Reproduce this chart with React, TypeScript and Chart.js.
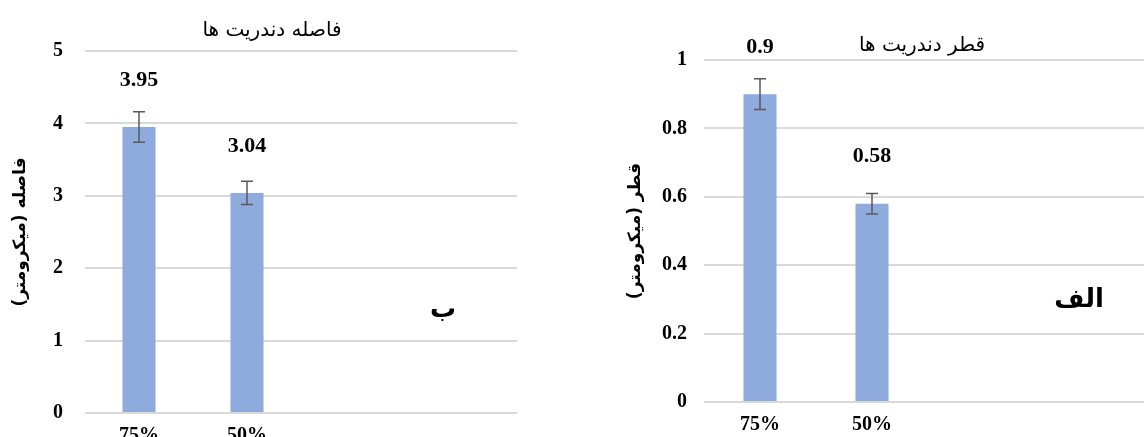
import React, { useEffect, useRef } from 'react';
import { Chart, registerables } from 'chart.js';

Chart.register(...registerables);

// ---- data ----
const categories = ['75%', '50%', '', ''];

const spacingValues = [3.95, 3.04];
const spacingErrors = [0.21, 0.16];
const spacingLabels = ['3.95', '3.04'];
const spacingTitle = 'فاصله دندریت ها';
const spacingAxisTitle = 'فاصله (میکرومتر)';
const spacingLetter = 'ب';
const spacingMin = 0;
const spacingMax = 5;
const spacingStep = 1;

const diameterValues = [0.9, 0.58];
const diameterErrors = [0.045, 0.03];
const diameterLabels = ['0.9', '0.58'];
const diameterTitle = 'قطر دندریت ها';
const diameterAxisTitle = 'قطر (میکرومتر)';
const diameterLetter = 'الف';
const diameterMin = 0;
const diameterMax = 1;
const diameterStep = 0.2;

const BAR_COLOR = '#8faadc';
const GRID_COLOR = '#d9d9d9';
const NUM_FONT = '"Liberation Serif", "Times New Roman", serif';
const FA_FONT = '"DejaVu Sans", sans-serif';

const panelExtras = {
  id: 'panelExtras',
  afterDatasetsDraw(chart: any, _args: any, opts: any) {
    const ctx = chart.ctx;
    const yScale = chart.scales.y;
    const meta = chart.getDatasetMeta(0);
    const values = chart.data.datasets[0].data;
    ctx.save();
    meta.data.forEach((bar: any, i: number) => {
      const v = values[i];
      if (v == null) return;
      const e = opts.errors[i] || 0;
      const x = bar.x;
      const yt = yScale.getPixelForValue(v + e);
      const yb = yScale.getPixelForValue(v - e);
      ctx.strokeStyle = '#595959';
      ctx.lineWidth = 1.5;
      ctx.beginPath();
      ctx.moveTo(x, yt);
      ctx.lineTo(x, yb);
      ctx.moveTo(x - 6, yt);
      ctx.lineTo(x + 6, yt);
      ctx.moveTo(x - 6, yb);
      ctx.lineTo(x + 6, yb);
      ctx.stroke();
      ctx.fillStyle = '#000';
      ctx.font = `bold 22px ${NUM_FONT}`;
      ctx.textAlign = 'center';
      ctx.textBaseline = 'middle';
      ctx.fillText(opts.labels[i], x, bar.y - opts.labelOffset);
    });
    ctx.fillStyle = '#000';
    ctx.textAlign = 'center';
    ctx.textBaseline = 'middle';
    ctx.font = `20px ${FA_FONT}`;
    ctx.fillText(opts.title, opts.titleX, opts.titleY);
    ctx.font = `bold 26px ${FA_FONT}`;
    ctx.fillText(opts.letter, opts.letterX, opts.letterY);
    ctx.restore();
  },
};

type PanelProps = {
  left: number;
  width: number;
  height: number;
  values: number[];
  errors: number[];
  labels: string[];
  title: string;
  axisTitle: string;
  letter: string;
  min: number;
  max: number;
  step: number;
  padTop: number;
  padRight: number;
  yAxisWidth: number;
  xAxisHeight: number;
  tickPad: number;
  axisTitlePad: number;
  catPct: number;
  titleX: number;
  titleY: number;
  letterX: number;
  letterY: number;
};

function Panel(p: PanelProps) {
  const ref = useRef<HTMLCanvasElement | null>(null);
  useEffect(() => {
    if (!ref.current) return;
    const chart = new Chart(ref.current, {
      type: 'bar',
      data: {
        labels: categories,
        datasets: [
          {
            data: p.values,
            backgroundColor: BAR_COLOR,
            barPercentage: 1,
            categoryPercentage: p.catPct,
          },
        ],
      },
      options: {
        responsive: false,
        maintainAspectRatio: false,
        animation: false,
        layout: { padding: { left: 0, right: p.padRight, top: p.padTop, bottom: 0 } },
        plugins: {
          legend: { display: false },
          tooltip: { enabled: false },
          panelExtras: {
            errors: p.errors,
            labels: p.labels,
            labelOffset: 47,
            title: p.title,
            titleX: p.titleX,
            titleY: p.titleY,
            letter: p.letter,
            letterX: p.letterX,
            letterY: p.letterY,
          },
        } as any,
        scales: {
          x: {
            grid: { display: false },
            border: { display: false },
            ticks: {
              color: '#000',
              padding: 3,
              maxRotation: 0,
              autoSkip: false,
              font: { family: NUM_FONT, size: 20, weight: 'bold' },
            },
            afterFit: (s: any) => {
              s.height = p.xAxisHeight;
            },
          },
          y: {
            min: p.min,
            max: p.max,
            ticks: {
              stepSize: p.step,
              color: '#000',
              padding: p.tickPad,
              font: { family: NUM_FONT, size: 20, weight: 'bold' },
              callback: (v: any) => String(Math.round(Number(v) * 10) / 10),
            },
            grid: { color: GRID_COLOR, lineWidth: 2, drawTicks: false },
            border: { display: false },
            title: {
              display: true,
              text: p.axisTitle,
              color: '#000',
              font: { family: FA_FONT, size: 17, weight: 'bold' },
              padding: { top: p.axisTitlePad, bottom: 0 },
            },
            afterFit: (s: any) => {
              s.width = p.yAxisWidth;
            },
          },
        },
      } as any,
      plugins: [panelExtras],
    });
    return () => chart.destroy();
  }, []);
  return (
    <canvas
      ref={ref}
      dir="rtl"
      width={p.width}
      height={p.height}
      style={{ position: 'absolute', left: p.left, top: 0, width: p.width, height: p.height }}
    />
  );
}

export default function App() {
  return (
    <div
      style={{
        position: 'absolute',
        left: 0,
        top: 0,
        width: 1144,
        height: 437,
        overflow: 'hidden',
        background: '#fff',
      }}
    >
      <Panel
        left={0}
        width={560}
        height={450}
        values={spacingValues}
        errors={spacingErrors}
        labels={spacingLabels}
        title={spacingTitle}
        axisTitle={spacingAxisTitle}
        letter={spacingLetter}
        min={spacingMin}
        max={spacingMax}
        step={spacingStep}
        padTop={51}
        padRight={43}
        yAxisWidth={85}
        xAxisHeight={37}
        tickPad={22}
        axisTitlePad={10}
        catPct={0.306}
        titleX={272}
        titleY={31}
        letterX={443}
        letterY={310}
      />
      <Panel
        left={600}
        width={560}
        height={450}
        values={diameterValues}
        errors={diameterErrors}
        labels={diameterLabels}
        title={diameterTitle}
        axisTitle={diameterAxisTitle}
        letter={diameterLetter}
        min={diameterMin}
        max={diameterMax}
        step={diameterStep}
        padTop={60}
        padRight={8}
        yAxisWidth={104}
        xAxisHeight={48}
        tickPad={17}
        axisTitlePad={25}
        catPct={0.295}
        titleX={322}
        titleY={46}
        letterX={479}
        letterY={300}
      />
    </div>
  );
}
